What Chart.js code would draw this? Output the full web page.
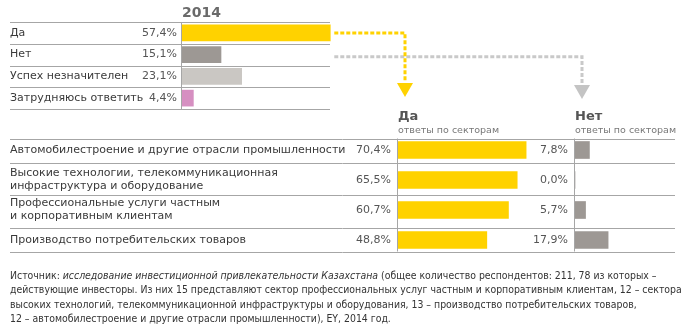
<!DOCTYPE html>
<html>
<head>
<meta charset="utf-8">
<script src="https://cdn.jsdelivr.net/npm/chart.js@4.4.0/dist/chart.umd.min.js"></script>
<style>
  body { margin: 0; width: 691px; height: 330px; background: #fff; position: relative; overflow: hidden; }
  canvas { position: absolute; left: 0; }
  #top { top: 0; }
  #yes, #no { top: 100px; }
  .note {
    position: absolute; left: 10px; top: 268px; white-space: nowrap;
    font: 10.4px 'DejaVu Sans Condensed', 'DejaVu Sans', sans-serif;
    line-height: 14.3px; color: #333;
  }
</style>
</head>
<body>
<canvas id="top" width="691" height="115"></canvas>
<canvas id="yes" width="691" height="160"></canvas>
<canvas id="no" width="691" height="160"></canvas>
<div class="note">Источник: <i>исследование инвестиционной привлекательности Казахстана</i> (общее количество респондентов: 211, 78 из которых –<br>действующие инвесторы. Из них 15 представляют сектор профессиональных услуг частным и корпоративным клиентам, 12 – сектора<br>высоких технологий, телекоммуникационной инфраструктуры и оборудования, 13 – производство потребительских товаров,<br>12 – автомобилестроение и другие отрасли промышленности), EY, 2014 год.</div>

<script>
// данные
const answers = ['Да', 'Нет', 'Успех незначителен', 'Затрудняюсь ответить'];
const answers2014 = [57.4, 15.1, 23.1, 4.4];
const answerColors = ['#FFD200', '#9d9894', '#cac7c3', '#d68fc1'];

const sectors = [
  ['Автомобилестроение и другие отрасли промышленности'],
  ['Высокие технологии, телекоммуникационная', 'инфраструктура и оборудование'],
  ['Профессиональные услуги частным', 'и корпоративным клиентам'],
  ['Производство потребительских товаров']
];
const sectorYes = [70.4, 65.5, 60.7, 48.8];
const sectorNo = [7.8, 0.0, 5.7, 17.9];

Chart.defaults.font.family = "'DejaVu Sans', sans-serif";

const fmt = v => v.toFixed(1).replace('.', ',') + '%';
const FONT = "11px 'DejaVu Sans', sans-serif";

function hline(ctx, x1, x2, y) {
  ctx.beginPath();
  ctx.moveTo(x1, Math.round(y) + 0.5);
  ctx.lineTo(x2, Math.round(y) + 0.5);
  ctx.stroke();
}

function dottedArrow(ctx, x0, y0, x1, y1, color, headColor) {
  ctx.save();
  ctx.strokeStyle = color;
  ctx.lineWidth = 3;
  ctx.setLineDash([4, 2]);
  ctx.beginPath();
  ctx.moveTo(x0, y0);
  ctx.lineTo(x1, y0);
  ctx.lineTo(x1, y1);
  ctx.stroke();
  ctx.setLineDash([]);
  ctx.fillStyle = headColor;
  ctx.beginPath();
  ctx.moveTo(x1 - 8, y1 + 1);
  ctx.lineTo(x1 + 8, y1 + 1);
  ctx.lineTo(x1, y1 + 15);
  ctx.closePath();
  ctx.fill();
  ctx.restore();
}

// границы строк нижней таблицы (двухстрочные подписи выше)
function rowEdges(chart) {
  const y = chart.scales.y;
  const tops = [], bots = [];
  sectors.forEach((s, i) => {
    const c = y.getPixelForValue(i);
    const h = s.length > 1 ? 16.5 : 11.5;
    tops.push(c - h);
    bots.push(c + h);
  });
  const edges = [tops[0]];
  for (let i = 0; i < sectors.length - 1; i++) edges.push((bots[i] + tops[i + 1]) / 2);
  edges.push(bots[bots.length - 1]);
  return edges;
}

const topPlugin = {
  id: 'topLabels',
  afterDatasetsDraw(chart) {
    const ctx = chart.ctx, x = chart.scales.x, y = chart.scales.y;
    const area = chart.chartArea;
    ctx.save();
    ctx.strokeStyle = '#a6a6a6';
    ctx.lineWidth = 1;
    const edges = [area.top];
    for (let i = 0; i < answers.length - 1; i++)
      edges.push((y.getPixelForValue(i) + y.getPixelForValue(i + 1)) / 2);
    edges.push(area.bottom);
    edges.forEach(e => hline(ctx, 10, 330, e));
    ctx.beginPath();
    ctx.moveTo(x.left - 0.5, area.top);
    ctx.lineTo(x.left - 0.5, area.bottom);
    ctx.stroke();

    ctx.font = FONT;
    ctx.textBaseline = 'middle';
    answers.forEach((a, i) => {
      const yc = y.getPixelForValue(i);
      ctx.fillStyle = '#3a3a3a';
      ctx.textAlign = 'left';
      ctx.fillText(a, 10, yc);
      ctx.fillStyle = '#555';
      ctx.textAlign = 'right';
      ctx.fillText(fmt(answers2014[i]), x.left - 5, yc);
    });

    ctx.font = "bold 14px 'DejaVu Sans', sans-serif";
    ctx.fillStyle = '#6a6a6a';
    ctx.textAlign = 'left';
    ctx.fillText('2014', x.left, 13);

    const start = x.getPixelForValue(answers2014[0]) + 4;
    dottedArrow(ctx, start, y.getPixelForValue(1) + 2, 582, 84, '#c9c9c9', '#c4c4c4');
    dottedArrow(ctx, start, y.getPixelForValue(0), 405, 82, '#FFD200', '#FFD200');
    ctx.restore();
  }
};

function sectorPlugin(values, title, labels) {
  return {
    id: 'sector' + title,
    afterDatasetsDraw(chart) {
      const ctx = chart.ctx, x = chart.scales.x, y = chart.scales.y;
      const edges = rowEdges(chart);
      ctx.save();
      ctx.strokeStyle = '#a6a6a6';
      ctx.lineWidth = 1;
      if (labels) edges.forEach(e => hline(ctx, 10, 675, e));
      ctx.beginPath();
      ctx.moveTo(x.left - 0.5, edges[0]);
      ctx.lineTo(x.left - 0.5, edges[edges.length - 1]);
      ctx.stroke();

      ctx.font = FONT;
      ctx.textBaseline = 'middle';
      sectors.forEach((s, i) => {
        const yc = y.getPixelForValue(i);
        if (labels) {
          ctx.fillStyle = '#3a3a3a';
          ctx.textAlign = 'left';
          s.forEach((line, j) => ctx.fillText(line, 10, yc + (j - (s.length - 1) / 2) * 13));
        }
        ctx.fillStyle = '#555';
        ctx.textAlign = 'right';
        ctx.fillText(fmt(values[i]), x.left - 7, yc);
      });

      ctx.textAlign = 'left';
      ctx.fillStyle = '#555';
      ctx.font = "bold 13px 'DejaVu Sans', sans-serif";
      ctx.fillText(title, x.left, 17);
      ctx.fillStyle = '#777';
      ctx.font = "9.5px 'DejaVu Sans', sans-serif";
      ctx.fillText('ответы по секторам', x.left, 31);
      ctx.restore();
    }
  };
}

function barOptions(padding, max) {
  return {
    responsive: false,
    animation: false,
    indexAxis: 'y',
    layout: { padding },
    scales: {
      x: { display: false, min: 0, max },
      y: { display: false }
    },
    plugins: { legend: { display: false }, tooltip: { enabled: false } }
  };
}

new Chart(document.getElementById('top'), {
  type: 'bar',
  data: {
    labels: answers,
    datasets: [{ data: answers2014, backgroundColor: answerColors, barThickness: 16 }]
  },
  options: barOptions({ left: 182, right: 354, top: 22, bottom: 6 }, 60),
  plugins: [topPlugin]
});

new Chart(document.getElementById('yes'), {
  type: 'bar',
  data: {
    labels: sectors.map(s => s.join(' ')),
    datasets: [{ data: sectorYes, backgroundColor: '#FFD200', barThickness: 17 }]
  },
  options: barOptions({ left: 398, right: 111, top: 35, bottom: 5 }, 100),
  plugins: [sectorPlugin(sectorYes, 'Да', true)]
});

new Chart(document.getElementById('no'), {
  type: 'bar',
  data: {
    labels: sectors.map(s => s.join(' ')),
    datasets: [{ data: sectorNo, backgroundColor: '#9d9894', barThickness: 17 }]
  },
  options: barOptions({ left: 575, right: 5, top: 35, bottom: 5 }, 60),
  plugins: [sectorPlugin(sectorNo, 'Нет', false)]
});
</script>
</body>
</html>
